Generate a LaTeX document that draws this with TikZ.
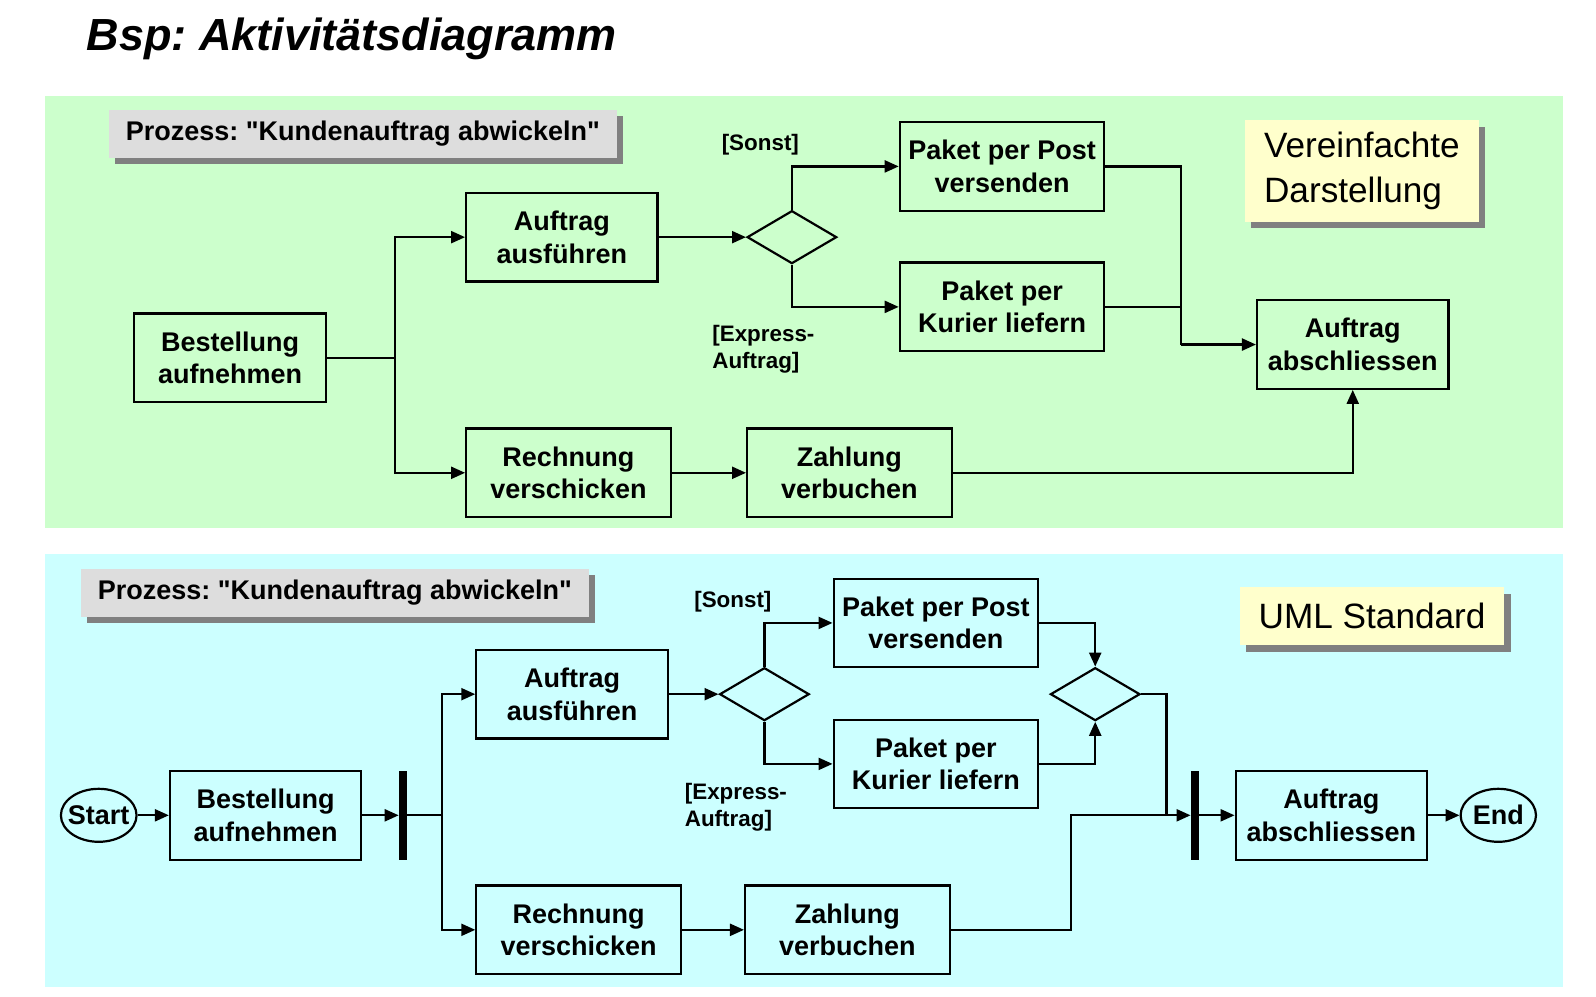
\documentclass[tikz,border=0pt]{standalone}
\usepackage{fontspec}
\setmainfont{Liberation Sans}
\usetikzlibrary{shapes.geometric, arrows.meta, shadows}
\frenchspacing

\definecolor{panelgreen}{HTML}{CCFFCC}
\definecolor{panelcyan}{HTML}{CCFFFF}
\definecolor{notegray}{HTML}{DDDDDD}
\definecolor{noteyellow}{HTML}{FFFFCC}
\definecolor{shadowgray}{HTML}{808080}

\tikzset{
	activity/.style={draw, line width=1.1pt, align=center, inner sep=0pt, minimum height=44.3pt, font=\fontsize{13.5}{16.3}\selectfont\bfseries},
	shortbox/.style={activity, minimum width=95.7pt},
	widebox/.style={activity, minimum width=102.3pt},
	decision/.style={diamond, draw, line width=1.1pt, inner sep=0pt, minimum width=44.8pt, minimum height=26.5pt},
	bar/.style={fill=black, inner sep=0pt, minimum width=4pt, minimum height=44.3pt},
	terminal/.style={ellipse, draw, line width=1.1pt, inner ysep=0pt, inner xsep=-2pt, minimum width=37.7pt, minimum height=26.5pt, font=\fontsize{13.5}{16.3}\selectfont\bfseries},
	link/.style={line width=1.1pt},
	flow/.style={link, -{Triangle[length=7pt, width=6pt]}},
	guard/.style={align=left, inner sep=0pt, font=\fontsize{11.2}{13.2}\selectfont\bfseries},
	slidetitle/.style={inner sep=0pt, font=\fontsize{22.5}{27}\selectfont\bfseries\itshape},
	shadowed/.style={drop shadow={shadow xshift=3.2pt, shadow yshift=-3.2pt, fill=shadowgray, opacity=1}},
	processlabel/.style={shadowed, fill=notegray, inner sep=0pt, minimum width=254pt, minimum height=23.9pt, font=\fontsize{13.5}{16.3}\selectfont\bfseries},
	notelabel/.style={shadowed, fill=noteyellow, inner sep=0pt, align=left, font=\fontsize{17.6}{22.4}\selectfont}
}

\begin{document}
\begin{tikzpicture}[x=0.509pt, y=-0.509pt]
	\useasboundingbox (0,0) rectangle (1568,979);
	\fill[white] (0,0) rectangle (1568,979);
	\node[slidetitle, anchor=base west] (title) at (85,50) {Bsp: Aktivitätsdiagramm};

	\fill[panelgreen] (44,94) rectangle (1536,519);
	\fill[panelcyan] (44,544) rectangle (1536,970);

	% vereinfachte Darstellung
	\node[processlabel] (procA) at (356.5,131.5) {Prozess: \textquotedbl Kundenauftrag abwickeln\textquotedbl};
	\node[notelabel, minimum width=117pt, minimum height=50.9pt] (noteA) at (1338,168) {Vereinfachte\\Darstellung};

	\node[shortbox] (bestA) at (226,351.5) {Bestellung\\aufnehmen};
	\node[shortbox] (ausfA) at (552,233) {Auftrag\\ausführen};
	\node[widebox] (rechA) at (558.5,464.5) {Rechnung\\verschicken};
	\node[widebox] (zahlA) at (834.5,464.5) {Zahlung\\verbuchen};
	\node[decision] (decA) at (778,233) {};
	\node[widebox] (postA) at (984.5,163.5) {Paket per Post\\versenden};
	\node[widebox] (kurA) at (984.5,301.5) {Paket per\\Kurier liefern};
	\node[shortbox] (abschA) at (1329,338.5) {Auftrag\\abschliessen};
	\node[guard] (sonstA) at (747,142) {[Sonst]};
	\node[guard] (expressA) at (750,343) {[Express-\\Auftrag]};

	\coordinate (splitA) at (388,351.5);
	\coordinate (mergeA) at (1160,338.5);
	\draw[link] (bestA.east) -- (splitA);
	\draw[flow] (splitA) |- (ausfA.west);
	\draw[flow] (splitA) |- (rechA.west);
	\draw[flow] (ausfA.east) -- (decA.west);
	\draw[flow] (decA.north) |- (postA.west);
	\draw[flow] (decA.south) |- (kurA.west);
	\draw[link] (postA.east) -| (mergeA);
	\draw[link] (kurA.east) -| (mergeA);
	\draw[flow] (mergeA) -- (abschA.west);
	\draw[flow] (rechA.east) -- (zahlA.west);
	\draw[flow] (zahlA.east) -| (abschA.south);

	% UML Standard
	\node[processlabel] (procB) at (329,582.5) {Prozess: \textquotedbl Kundenauftrag abwickeln\textquotedbl};
	\node[notelabel, minimum width=132.3pt, minimum height=29pt] (noteB) at (1348,605.5) {UML Standard};

	\node[terminal] (startB) at (97,801) {Start};
	\node[shortbox] (bestB) at (261,801) {Bestellung\\aufnehmen};
	\node[bar] (forkB) at (396,801) {};
	\node[shortbox] (ausfB) at (562,682) {Auftrag\\ausführen};
	\node[widebox] (rechB) at (568.5,913.5) {Rechnung\\verschicken};
	\node[widebox] (zahlB) at (832.5,913.5) {Zahlung\\verbuchen};
	\node[decision] (decB) at (751,682) {};
	\node[widebox] (postB) at (919.5,612) {Paket per Post\\versenden};
	\node[widebox] (kurB) at (919.5,750.5) {Paket per\\Kurier liefern};
	\node[decision] (mergeB) at (1076,682) {};
	\node[bar] (joinB) at (1174,801) {};
	\node[shortbox] (abschB) at (1308,801) {Auftrag\\abschliessen};
	\node[terminal] (endB) at (1472,801) {End};
	\node[guard] (sonstB) at (720,591) {[Sonst]};
	\node[guard] (expressB) at (723,793) {[Express-\\Auftrag]};

	\coordinate (splitB) at (434,801);
	\coordinate (collectB) at (1146,801);
	\coordinate (payB) at (1052,801);
	\draw[flow] (startB.east) -- (bestB.west);
	\draw[flow] (bestB.east) -- (forkB.west);
	\draw[link] (forkB.east) -- (splitB);
	\draw[flow] (splitB) |- (ausfB.west);
	\draw[flow] (splitB) |- (rechB.west);
	\draw[flow] (ausfB.east) -- (decB.west);
	\draw[flow] (decB.north) |- (postB.west);
	\draw[flow] (decB.south) |- (kurB.west);
	\draw[flow] (postB.east) -| (mergeB.north);
	\draw[flow] (kurB.east) -| (mergeB.south);
	\draw[flow] (rechB.east) -- (zahlB.west);
	\draw[link] (mergeB.east) -| (collectB);
	\draw[flow] (zahlB.east) -| (payB) -- (joinB.west);
	\draw[flow] (joinB.east) -- (abschB.west);
	\draw[flow] (abschB.east) -- (endB.west);
\end{tikzpicture}
\end{document}
